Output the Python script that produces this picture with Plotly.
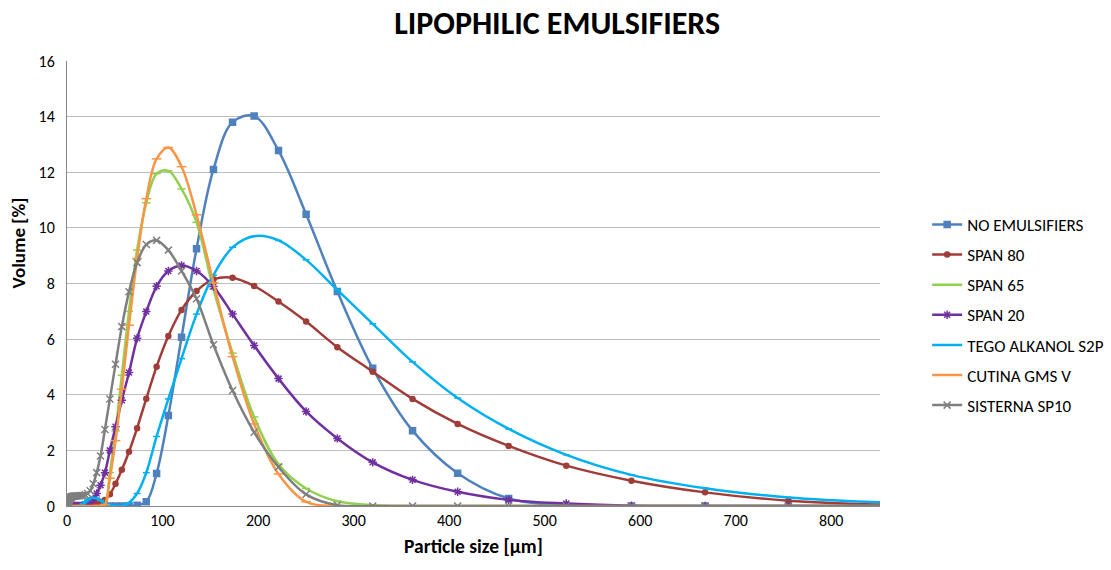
import plotly.graph_objects as go

# Particle size grid [µm]
particle_size = [1.01, 1.14, 1.29, 1.46, 1.65, 1.86, 2.1, 2.4, 2.7, 3.0, 3.4, 3.9, 4.4, 4.9,
                 5.6, 6.3, 7.1, 8.1, 9.1, 10.3, 11.6, 13.2, 14.9, 16.8, 19.0, 21.5, 24.3, 27.5,
                 31.1, 35.1, 39.7, 44.9, 50.8, 57.4, 64.9, 73.4, 83.0, 93.8, 106.1, 119.9, 135.6,
                 153.3, 173.3, 195.9, 221.4, 250.3, 283.0, 320.0, 361.7, 408.9, 462.3, 522.6,
                 590.8, 667.9, 755.1, 853.6]

no_emulsifiers = [0]*35 + [0.03, 0.15, 1.17, 3.25, 6.07, 9.25, 12.1, 13.8, 14.02, 12.78, 10.49,
                           7.71, 4.95, 2.71, 1.18, 0.27, 0.02, 0, 0, 0, 0]
span_80 = [0]*25 + [0.02, 0.07, 0.12, 0.15, 0.15, 0.22, 0.42, 0.8, 1.3, 1.95, 2.8, 3.86, 5.01,
                    6.11, 7.05, 7.73, 8.15, 8.21, 7.91, 7.35, 6.63, 5.71, 4.83, 3.85, 2.95, 2.16,
                    1.45, 0.91, 0.49, 0.19, 0.05]
span_65 = [0]*30 + [0.05, 1.2, 2.7, 4.7, 7.0, 9.2, 10.9, 11.95, 12.05, 11.4, 10.2, 7.8, 5.5, 3.2,
                    1.5, 0.63, 0.17, 0.03, 0, 0, 0, 0, 0, 0, 0, 0]
span_20 = [0]*23 + [0.02, 0.05, 0.08, 0.14, 0.25, 0.45, 0.75, 1.2, 2.0, 2.85, 3.8, 4.8, 6.03, 6.99,
                    7.9, 8.45, 8.65, 8.45, 7.89, 6.9, 5.77, 4.58, 3.4, 2.43, 1.57, 0.94, 0.51,
                    0.22, 0.09, 0.01, 0, 0, 0]
tego_alkanol_s2p = [0]*22 + [0.02, 0.08, 0.15, 0.22, 0.28, 0.3, 0.28, 0.2, 0.1, 0.03, 0, 0, 0.12,
                             0.45, 1.2, 2.5, 3.85, 5.3, 6.9, 8.3, 9.3, 9.7, 9.55, 8.85, 7.77, 6.55,
                             5.18, 3.88, 2.77, 1.84, 1.12, 0.64, 0.31, 0.13]
cutina_gms_v = [0]*30 + [0.05, 1.0, 2.35, 4.2, 6.5, 8.9, 11.05, 12.48, 12.89, 12.2, 10.47, 8.03,
                         5.37, 2.95, 1.15, 0.15, 0, 0, 0, 0, 0, 0, 0, 0, 0, 0]
sisterna_sp10 = [0.02, 0.04, 0.07, 0.1, 0.13, 0.16, 0.19, 0.22, 0.25, 0.27, 0.29, 0.31, 0.32, 0.33,
                 0.34, 0.35, 0.35, 0.36, 0.36, 0.36, 0.37, 0.37, 0.38, 0.38, 0.4, 0.45, 0.55, 0.8,
                 1.2, 1.8, 2.75, 3.85, 5.1, 6.45, 7.7, 8.75, 9.4, 9.55, 9.2, 8.45, 7.45, 5.8, 4.15,
                 2.65, 1.4, 0.42, 0.03, 0, 0, 0, 0, 0, 0, 0, 0, 0]

series_names = ["NO EMULSIFIERS", "SPAN 80", "SPAN 65", "SPAN 20",
                "TEGO ALKANOL S2P", "CUTINA GMS V", "SISTERNA SP10"]
series_values = [no_emulsifiers, span_80, span_65, span_20,
                 tego_alkanol_s2p, cutina_gms_v, sisterna_sp10]
colors = ["#4F81BD", "#A03D39", "#92D050", "#7030A0", "#00B0F0", "#F79646", "#7F7F7F"]
symbols = ["square", "circle", "line-ew", "asterisk", "line-ew", "line-ew", "x-thin"]
sizes = [6, 5, 6, 7, 5, 7, 7]

FONT = "Calibri, Carlito, Lato, sans-serif"

fig = go.Figure()
for name, vals, col, sym, sz in zip(series_names, series_values, colors, symbols, sizes):
    fig.add_trace(go.Scatter(
        x=particle_size, y=vals, name=name, mode="lines+markers",
        legendgroup=name,
        line=dict(color=col, width=2.5, shape="spline", smoothing=1.0),
        marker=dict(symbol=sym, size=sz, color=col, line=dict(color=col, width=1.5)),
    ))

fig.update_layout(
    width=1111, height=570,
    paper_bgcolor="white", plot_bgcolor="white",
    margin=dict(l=67, r=231, t=61, b=64, autoexpand=False),
    title=dict(text="<b>LIPOPHILIC EMULSIFIERS</b>", xref="container", x=0.5015,
               xanchor="center", yref="container", y=1 - 23 / 570, yanchor="middle",
               font=dict(family=FONT, size=32, color="black")),
    font=dict(family=FONT, size=16, color="black"),
    legend=dict(x=1.058, xanchor="left", y=0.672, yanchor="top",
                font=dict(family=FONT, size=17, color="black"),
                tracegroupgap=5, itemwidth=30, bgcolor="rgba(0,0,0,0)"),
    showlegend=True,
    annotations=[dict(text="<b>Volume [%]</b>", xref="paper", yref="paper",
                      x=-0.0585, y=(506 - 243) / 445, xanchor="center", yanchor="middle",
                      textangle=-90, showarrow=False,
                      font=dict(family=FONT, size=19, color="black"))],
)
fig.update_xaxes(range=[0, 851], tickmode="linear", tick0=0, dtick=100,
                 showgrid=False, zeroline=False, showline=True, linecolor="#868686",
                 linewidth=1, ticks="", tickfont=dict(family=FONT, size=16, color="black"),
                 title=dict(text="<b>Particle size [µm]</b>", font=dict(family=FONT, size=19.5),
                            standoff=10))
fig.update_yaxes(range=[0, 16], tickmode="linear", tick0=0, dtick=2,
                 showgrid=True, gridcolor="#BEBEBE", gridwidth=1, zeroline=False,
                 showline=True, linecolor="#868686", linewidth=1, ticks="",
                 ticklabelstandoff=8,
                 tickfont=dict(family=FONT, size=16, color="black"))

fig.write_html("out.html", post_script="document.body.style.margin='0';",
               config={"displayModeBar": False})
